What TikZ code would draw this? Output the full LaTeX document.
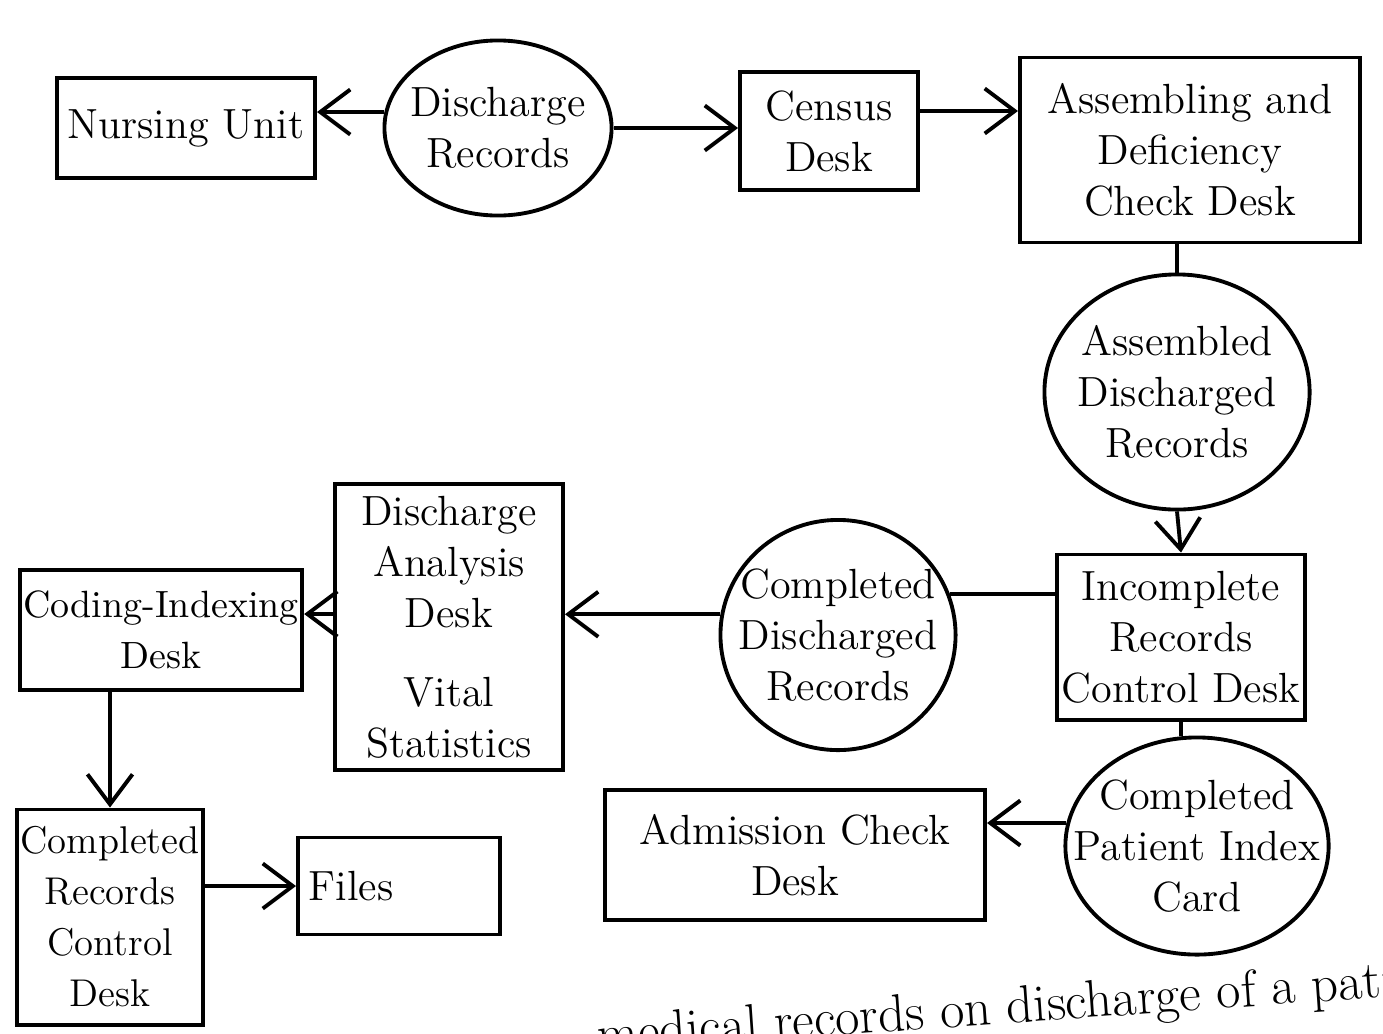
\documentclass[tikz,border=0pt]{standalone}
\usetikzlibrary{shapes.geometric,arrows.meta}

\tikzset{
  desk/.style={draw,rectangle,align=center,inner sep=1pt},
  recs/.style={draw,ellipse,align=center,inner xsep=-3mm,inner ysep=-2mm},
  flow/.style={-{Straight Barb[length=3mm,width=4.5mm]}},
}

\begin{document}
\begin{tikzpicture}[x=0.01cm,y=-0.01cm,line width=1.1pt,
  font=\fontsize{12}{14.5}\selectfont]

\clip (0,0) rectangle (1383,1033);

% top row
\node[desk,minimum width=2.58cm,minimum height=1cm] (nursing) at (186,128) {Nursing Unit};
\node[recs,minimum width=2.27cm,minimum height=1.75cm] (discharge) at (498,128) {Discharge\\Records};
\node[desk,minimum width=1.78cm,minimum height=1.18cm] (census) at (829,131) {Census\\Desk};
\node[desk,minimum width=3.4cm,minimum height=1.85cm] (assembling) at (1190,150) {Assembling and\\Deficiency\\Check Desk};

% right column
\node[recs,minimum width=2.65cm,minimum height=2.35cm] (assembled) at (1177,392) {Assembled\\Discharged\\Records};
\node[desk,minimum width=2.48cm,minimum height=1.65cm] (incomplete) at (1181,637) {Incomplete\\Records\\Control Desk};
\node[recs,minimum width=2.45cm,minimum height=2.17cm] (card) at (1197,846) {Completed\\Patient Index\\Card};

% middle row
\node[recs,minimum width=2.35cm,minimum height=2.3cm] (compdis) at (838,635) {Completed\\Discharged\\Records};
\node[desk,minimum width=2.28cm,minimum height=2.85cm] (analysis) at (449,627) {Discharge\\Analysis\\Desk\\[8pt]Vital\\Statistics};
\node[desk,minimum width=2.78cm,minimum height=1.2cm,font=\fontsize{10.8}{14.5}\selectfont] (coding) at (161,630) {Coding-Indexing\\Desk};

% bottom row
\node[desk,minimum width=1.7cm,minimum height=2.15cm,font=\fontsize{11}{14.5}\selectfont] (crcontrol) at (110,917) {Completed\\Records\\Control\\Desk};
\node[desk,minimum width=2.02cm,minimum height=0.97cm,text width=1.8cm,align=left] (files) at (399,886) {Files};
\node[desk,minimum width=3.8cm,minimum height=1.3cm] (admission) at (795,855) {Admission Check\\Desk};

% caption, cut by the page edge
\node[rotate=4,anchor=base west,font=\fontsize{15}{17}\selectfont] (note) at (585,1053) {medical records on discharge of a patient};

% connectors
\draw[flow] (discharge.172) -- (nursing.east |- discharge.172);
\draw[flow] (discharge.east) -- (census.west |- discharge.east);
\draw[flow] ([yshift=2mm]census.east) -- ([yshift=2mm]census.east -| assembling.west);
\draw (assembled.north |- assembling.south) -- (assembled.north);
\draw[flow] (assembled.south) -- (incomplete.north);
\draw (compdis.20) -- (incomplete.west |- compdis.20);
\draw[flow] (compdis.170) -- (analysis.east |- compdis.170);
\draw[flow] ([yshift=1.3mm]analysis.west) -- ([yshift=1.3mm]analysis.west -| coding.east);
\draw[flow] (crcontrol.north |- coding.south) -- (crcontrol.north);
\draw[flow] (crcontrol.east |- files.west) -- (files.west);
\draw (incomplete.south) -- (incomplete.south |- card.north);
\draw[flow] (card.170) -- (admission.east |- card.170);
\end{tikzpicture}
\end{document}
